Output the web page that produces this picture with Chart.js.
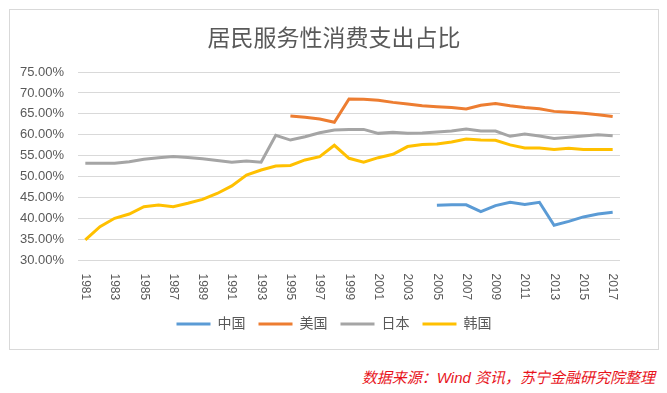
<!DOCTYPE html>
<html>
<head>
    <meta charset="utf-8">
    <title>居民服务性消费支出占比</title>
    <script src="https://cdn.jsdelivr.net/npm/chart.js"></script>
    <style>
        body { margin: 0; background: #fff; }
        #box { position: absolute; left: 9px; top: 9px; width: 648px; height: 339px; border: 1px solid #d9d9d9; }
        #source { position: absolute; right: 12px; top: 366px; color: #e8141c; font: italic 15px 'Liberation Sans', 'Noto Sans CJK SC', sans-serif; white-space: nowrap; }
    </style>
</head>
<body>
    <div id="box"><canvas id="serviceChart" width="648" height="339"></canvas></div>
    <div id="source">数据来源：Wind 资讯，苏宁金融研究院整理</div>
    <script>
        // years on the x axis
        let years = ["1981", "1982", "1983", "1984", "1985", "1986", "1987", "1988", "1989", "1990",
                     "1991", "1992", "1993", "1994", "1995", "1996", "1997", "1998", "1999", "2000",
                     "2001", "2002", "2003", "2004", "2005", "2006", "2007", "2008", "2009", "2010",
                     "2011", "2012", "2013", "2014", "2015", "2016", "2017"];

        // share of service consumption, %
        let china = [null, null, null, null, null, null, null, null, null, null,
                     null, null, null, null, null, null, null, null, null, null,
                     null, null, null, null, 43.2, 43.3, 43.3, 41.65, 43.1, 43.9,
                     43.4, 43.9, 38.4, 39.35, 40.4, 41.1, 41.5];
        let usa = [null, null, null, null, null, null, null, null, null, null,
                   null, null, null, null, 64.5, 64.2, 63.8, 63.0, 68.55, 68.5,
                   68.25, 67.75, 67.35, 66.95, 66.7, 66.5, 66.15, 67.05, 67.5, 66.95,
                   66.5, 66.25, 65.6, 65.4, 65.15, 64.8, 64.35];
        let japan = [53.2, 53.2, 53.2, 53.6, 54.15, 54.55, 54.8, 54.6, 54.3, 53.9,
                     53.45, 53.75, 53.45, 59.9, 58.75, 59.55, 60.5, 61.15, 61.3, 61.3,
                     60.35, 60.6, 60.35, 60.45, 60.7, 60.9, 61.4, 60.9, 60.9, 59.65,
                     60.2, 59.7, 59.15, 59.4, 59.7, 60.0, 59.8];
        let korea = [34.9, 38.07, 40.07, 41.1, 42.85, 43.25, 42.85, 43.65, 44.6, 46.0,
                     47.8, 50.4, 51.6, 52.55, 52.7, 54.0, 54.8, 57.5, 54.4, 53.45,
                     54.55, 55.35, 57.2, 57.7, 57.8, 58.3, 59.0, 58.75, 58.7, 57.6,
                     56.85, 56.85, 56.5, 56.8, 56.5, 56.5, 56.5];

        let font = "'Liberation Sans', 'Noto Sans CJK SC', sans-serif";

        // x labels read top to bottom, every other year
        const yearLabels = {
            id: 'yearLabels',
            afterDraw(chart) {
                let ctx = chart.ctx;
                let xs = chart.scales.x;
                ctx.save();
                ctx.font = "12px " + font;
                ctx.fillStyle = '#595959';
                ctx.textAlign = 'left';
                ctx.textBaseline = 'middle';
                years.forEach(function (yr, i) {
                    if (i % 2) return;
                    ctx.save();
                    ctx.translate(xs.getPixelForValue(i), chart.chartArea.bottom + 13);
                    ctx.rotate(Math.PI / 2);
                    ctx.fillText(yr, 0, 0);
                    ctx.restore();
                });
                ctx.restore();
            }
        };

        function line(name, values, color) {
            return {
                label: name,
                data: values,
                borderColor: color,
                backgroundColor: color,
                borderWidth: 3,
                pointRadius: 0,
                tension: 0,
                fill: false
            };
        }

        new Chart(document.getElementById("serviceChart"), {
            type: 'line',
            data: {
                labels: years,
                datasets: [
                    line('中国', china, '#5b9bd5'),
                    line('美国', usa, '#ed7d31'),
                    line('日本', japan, '#a5a5a5'),
                    line('韩国', korea, '#ffc000')
                ]
            },
            plugins: [yearLabels],
            options: {
                responsive: false,
                devicePixelRatio: 1,
                animation: false,
                layout: { padding: { left: 0, right: 0, top: 0, bottom: 8 } },
                plugins: {
                    title: {
                        display: true,
                        text: '居民服务性消费支出占比',
                        color: '#595959',
                        font: { family: font, size: 23, weight: 'normal' },
                        padding: { top: 16, bottom: 18.4 }
                    },
                    legend: {
                        position: 'bottom',
                        labels: {
                            color: '#595959',
                            font: { family: font, size: 14 },
                            boxWidth: 34,
                            boxHeight: 3,
                            padding: 13,
                            generateLabels(chart) {
                                let items = Chart.defaults.plugins.legend.labels.generateLabels(chart);
                                items.forEach(function (it) { it.lineWidth = 0; });
                                return items;
                            }
                        }
                    },
                    tooltip: { enabled: false }
                },
                scales: {
                    x: {
                        offset: true,
                        grid: { display: false },
                        border: { display: false },
                        ticks: { display: false },
                        afterFit(scale) { scale.height = 43.5; }
                    },
                    y: {
                        min: 30,
                        max: 75,
                        grid: { color: '#d9d9d9', drawTicks: false },
                        border: { display: false },
                        ticks: {
                            stepSize: 5,
                            padding: 14,
                            color: '#595959',
                            font: { family: font, size: 13 },
                            callback: function (v) { return v.toFixed(2) + '%'; }
                        },
                        afterFit(scale) { scale.width = 68; }
                    },
                    // empty right margin so title and legend stay centred on the box
                    yRight: {
                        position: 'right',
                        grid: { display: false },
                        border: { display: false },
                        ticks: { display: false },
                        afterFit(scale) { scale.width = 38; }
                    }
                }
            }
        });
    </script>
</body>
</html>
